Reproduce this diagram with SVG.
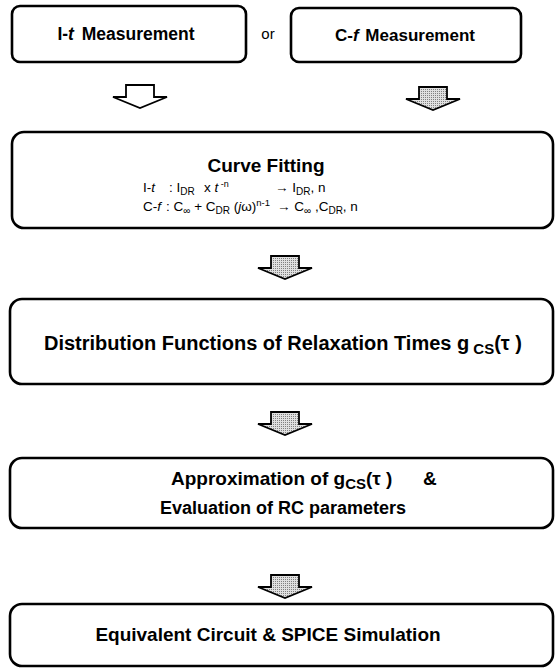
<svg xmlns="http://www.w3.org/2000/svg" width="556" height="672" viewBox="0 0 556 672">
<style>
.box{fill:#fff;stroke:#000;stroke-width:2.6}
.t{font-family:"Liberation Sans",Arial,sans-serif;font-weight:bold;fill:#000}
.r{font-family:"Liberation Sans",Arial,sans-serif;fill:#000;font-size:13.5px}
.arw{stroke:#000;stroke-width:1.8;stroke-linejoin:miter}
.white{fill:#fff}
.gray{fill:url(#stip)}
</style>
<defs>
<pattern id="stip" width="2" height="2" patternUnits="userSpaceOnUse">
<rect width="2" height="2" fill="#e0e0e0"/>
<rect width="1" height="1" fill="#808080"/>
</pattern>
<path id="arrow" d="M-14,0 L14,0 L14,12 L27,12 L0,23 L-27,12 L-14,12 Z"/>
</defs>
<rect width="556" height="672" fill="#fff"/>

<g id="node-it">
<rect class="box" x="12" y="6" width="234" height="56" rx="8"/>
<text class="t" x="126" y="40" text-anchor="middle" style="font-size:17.5px">I-<tspan font-style="italic">t</tspan><tspan dx="3"> Measurement</tspan></text>
</g>
<g id="label-or">
<text class="r" x="268" y="39" text-anchor="middle" style="font-size:15px">or</text>
</g>
<g id="node-cf">
<rect class="box" x="291" y="8" width="230" height="54" rx="8"/>
<text class="t" x="405" y="41" text-anchor="middle" style="font-size:17px">C-<tspan font-style="italic">f</tspan><tspan dx="2"> Measurement</tspan></text>
</g>

<g id="node-fit">
<rect class="box" x="12" y="132" width="541" height="96" rx="12"/>
<text class="t" x="266" y="172" text-anchor="middle" style="font-size:19px">Curve Fitting</text>
<text class="r" x="143" y="192">I-<tspan font-style="italic">t</tspan></text>
<text class="r" x="169" y="192">: I<tspan font-size="10" dy="3">DR</tspan></text>
<text class="r" x="204" y="192">x <tspan font-style="italic">t</tspan><tspan font-size="9" dy="-5"> -n</tspan></text>
<text class="r" x="275" y="192">→  I<tspan font-size="10" dy="3">DR</tspan><tspan dy="-3">, n</tspan></text>
<text class="r" x="143" y="211">C-<tspan font-style="italic">f</tspan></text>
<text class="r" x="166" y="211">: C<tspan font-size="10" dy="3">∞</tspan><tspan dy="-3"> + C</tspan><tspan font-size="10" dy="3">DR</tspan><tspan dy="-3"> (</tspan><tspan font-style="italic">j</tspan>ω)<tspan font-size="9.5" dy="-5">n-1</tspan></text>
<text class="r" x="277" y="211">→  C<tspan font-size="10" dy="3">∞</tspan><tspan dy="-3"> ,C</tspan><tspan font-size="10" dy="3">DR</tspan><tspan dy="-3">, n</tspan></text>
</g>

<g id="node-dist">
<rect class="box" x="10" y="299" width="543" height="85" rx="12"/>
<text class="t" x="283" y="350" text-anchor="middle" style="font-size:20px">Distribution Functions of Relaxation Times g<tspan font-size="15" dy="4"> CS</tspan><tspan dy="-4">(τ )</tspan></text>
</g>

<g id="node-approx">
<rect class="box" x="10" y="458" width="543" height="70" rx="12"/>
<text class="t" x="171" y="485" style="font-size:19px">Approximation of g<tspan font-size="15" dy="4">CS</tspan><tspan dy="-4">(τ )</tspan></text>
<text class="t" x="423" y="485" style="font-size:19px">&amp;</text>
<text class="t" x="283" y="514" text-anchor="middle" style="font-size:18px">Evaluation of RC parameters</text>
</g>

<g id="node-equiv">
<rect class="box" x="10" y="604" width="543" height="62" rx="12"/>
<text class="t" x="268" y="641" text-anchor="middle" style="font-size:19px">Equivalent Circuit &amp; SPICE Simulation</text>
</g>

<g id="connectors">
<use href="#arrow" class="arw white" x="140" y="85"/>
<use href="#arrow" class="arw gray" x="433" y="87"/>
<use href="#arrow" class="arw gray" x="285" y="256"/>
<use href="#arrow" class="arw gray" x="285" y="412"/>
<use href="#arrow" class="arw gray" x="285" y="575"/>
</g>
</svg>
